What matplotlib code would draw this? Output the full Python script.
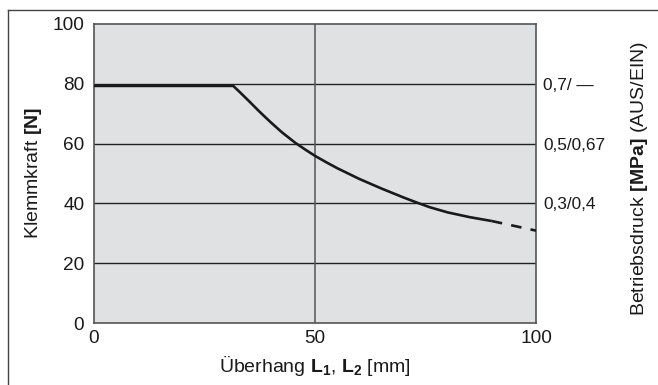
import matplotlib
matplotlib.use("Agg")
import matplotlib.pyplot as plt
from matplotlib.lines import Line2D

plt.rcParams['font.family'] = ['Liberation Sans', 'DejaVu Sans']
plt.rcParams['mathtext.fontset'] = 'custom'
plt.rcParams['mathtext.rm'] = 'Liberation Sans'
plt.rcParams['mathtext.bf'] = 'Liberation Sans:bold'

# Clamping force vs. overhang
overhang_solid = [0, 31.5, 33, 35, 37.5, 40, 42.5, 45.5, 48, 50, 52.5, 55, 57.5, 60,
                  62.5, 65, 67.5, 70, 73, 76, 80, 85, 90]
force_solid = [79.3, 79.3, 77.2, 74.3, 70.6, 67.1, 63.8, 60.3, 57.8, 55.9, 53.8, 51.8,
               50.0, 48.2, 46.6, 45.0, 43.5, 42.0, 40.3, 38.7, 37.0, 35.4, 34.1]
overhang_dashed = [90, 100]
force_dashed = [34.1, 30.9]

x_ticks = [0, 50, 100]
y_ticks = [0, 20, 40, 60, 80, 100]
pressure_ticks = [80, 60, 40]
pressure_labels = ["0,7/ \u2014", "0,5/0,67", "0,3/0,4"]

W, H = 658, 385
fig = plt.figure(figsize=(W / 100, H / 100), dpi=100)

# outer frame (left and top edges)
fig.add_artist(Line2D([7.5 / W, 7.5 / W], [0, 1 - 9.5 / H], transform=fig.transFigure,
                      color="#444444", lw=1.0))
fig.add_artist(Line2D([7.5 / W, 1], [1 - 9.5 / H, 1 - 9.5 / H], transform=fig.transFigure,
                      color="#444444", lw=1.0))

ax = fig.add_axes([94 / W, (H - 323) / H, 442 / W, 299 / H])
ax.set_facecolor("#e0e1e3")
ax.set_xlim(0, 100)
ax.set_ylim(0, 100)

for y in [20, 40, 60, 80]:
    ax.axhline(y, color="#222222", lw=1.0, zorder=1)
ax.axvline(50, color="#555555", lw=1.1, zorder=1)

ax.plot(overhang_solid, force_solid, color="#1a1a1a", lw=1.9, zorder=3,
        solid_joinstyle="round", solid_capstyle="butt")
ax.plot(overhang_dashed, force_dashed, color="#1a1a1a", lw=1.9, zorder=3,
        dashes=(4, 3.5))

for s in ax.spines.values():
    s.set_color("#555555")
    s.set_linewidth(1.2)

ax.set_xticks(x_ticks)
ax.set_yticks(y_ticks)
ax.tick_params(length=0, labelsize=13.7, colors="#1a1a1a")
ax.tick_params(axis="y", pad=7)
ax.tick_params(axis="x", pad=5)

ax2 = ax.twinx()
ax2.set_ylim(0, 100)
ax2.set_yticks(pressure_ticks)
ax2.set_yticklabels(pressure_labels)
ax2.tick_params(length=0, labelsize=12.4, pad=5, colors="#1a1a1a")
for s in ax2.spines.values():
    s.set_visible(False)

fig.text(33 / W, 1 - 173 / H, r"Klemmkraft $\mathbf{[N]}$", rotation=90,
         ha="center", va="center", fontsize=14, color="#1a1a1a")
fig.text(640 / W, 1 - 179 / H, r"Betriebsdruck $\mathbf{[MPa]}$ (AUS/EIN)", rotation=90,
         ha="center", va="center", fontsize=14, color="#1a1a1a")
fig.text(315 / W, 1 - 366 / H,
         r"Überhang $\mathbf{L}_{\mathbf{1}}$, $\mathbf{L}_{\mathbf{2}}$ [mm]",
         ha="center", va="center", fontsize=14, color="#1a1a1a")

fig.savefig("out.png", dpi=100)
